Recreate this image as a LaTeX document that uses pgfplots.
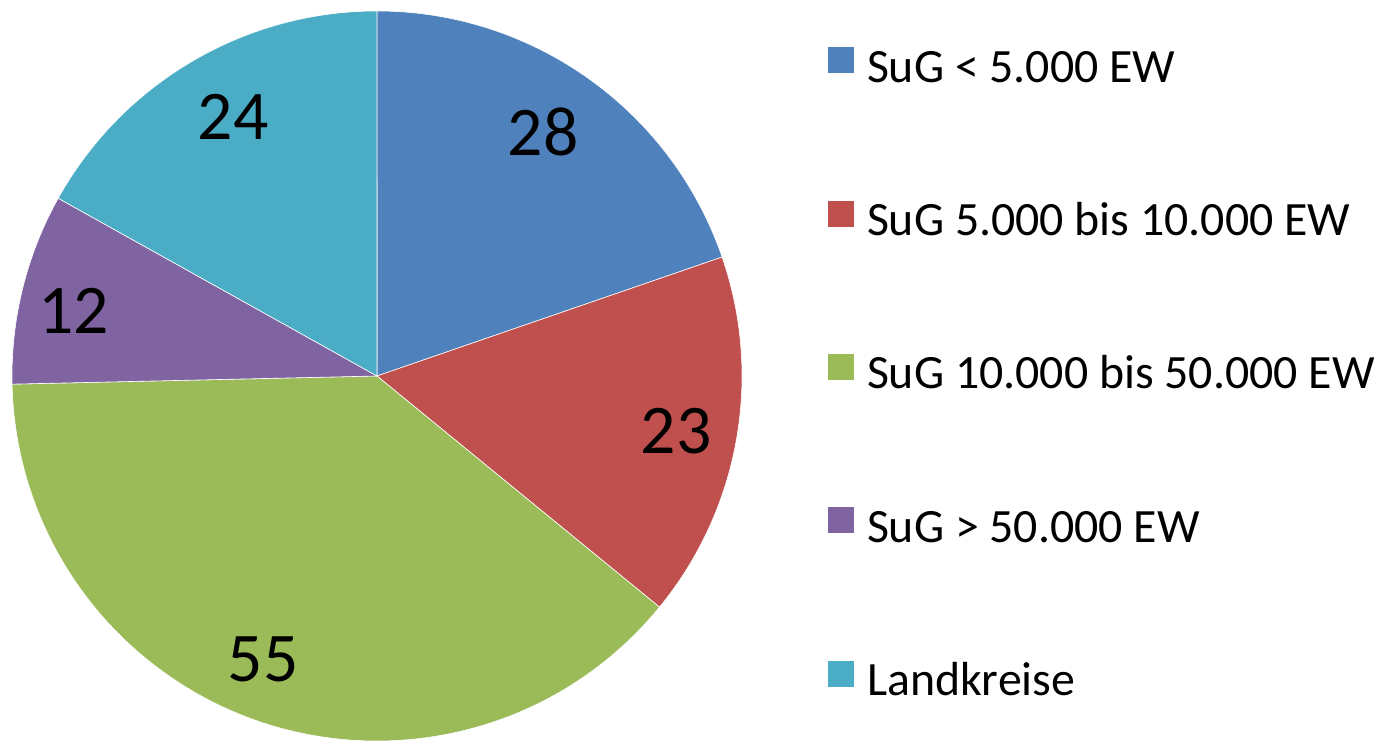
\documentclass[border=0pt]{standalone}
\usepackage{pgfplots}
\pgfplotsset{compat=1.18}
\usepackage{pgfplotstable}
\usepackage{fontspec}
\setmainfont{Carlito}
\definecolor{c1}{HTML}{4F81BD}
\definecolor{c2}{HTML}{C0504D}
\definecolor{c3}{HTML}{9BBB59}
\definecolor{c4}{HTML}{8064A2}
\definecolor{c5}{HTML}{4BACC6}
\pgfplotstableread{
value
28
23
55
12
24
}\piedata
\newcommand\slice[5]{%
  \fill[#1, draw=white, line width=0.3bp] (axis cs:377,365) -- ++(#2:182.5bp) arc[start angle=#2, end angle=#3, radius=182.5bp] -- cycle;
  \path (axis cs:377,365) ++({(#2+#3)/2}:150bp) node[font=\fontsize{35}{40}\selectfont, inner sep=0pt, #5] {#4};
}
\begin{document}
\begin{tikzpicture}
\pgfplotstablegetelem{0}{value}\of\piedata\edef\vA{\pgfplotsretval}
\pgfplotstablegetelem{1}{value}\of\piedata\edef\vB{\pgfplotsretval}
\pgfplotstablegetelem{2}{value}\of\piedata\edef\vC{\pgfplotsretval}
\pgfplotstablegetelem{3}{value}\of\piedata\edef\vD{\pgfplotsretval}
\pgfplotstablegetelem{4}{value}\of\piedata\edef\vE{\pgfplotsretval}
\pgfmathsetmacro\tot{\vA+\vB+\vC+\vD+\vE}
\pgfmathsetmacro\aA{90}
\pgfmathsetmacro\aB{\aA-360*(\vA/\tot)}
\pgfmathsetmacro\aC{\aB-360*(\vB/\tot)}
\pgfmathsetmacro\aD{\aC-360*(\vC/\tot)}
\pgfmathsetmacro\aE{\aD-360*(\vD/\tot)}
\pgfmathsetmacro\aF{\aE-360*(\vE/\tot)}
\begin{axis}[
  hide axis, scale only axis,
  x=0.5bp, y=0.5bp,
  xmin=0, xmax=1387, ymin=0, ymax=741,
  enlargelimits=false, clip=false,
  legend image code/.code={\fill[#1, draw=none] (0bp,0bp) rectangle (13bp,13bp);},
  legend cell align=left,
  legend style={draw=none, fill=none, inner sep=0pt, outer sep=0pt,
    at={(axis cs:828,365.5)}, anchor=west,
    font=\fontsize{24}{28}\selectfont,
    row sep=55.2bp,
    nodes={inner sep=0pt, text height=13bp, text depth=4bp},
    /tikz/every odd column/.append style={column sep=6.5bp}},
]
\slice{c1}{\aA}{\aB}{\vA}{xshift=-4bp}
\slice{c2}{\aB}{\aC}{\vB}{xshift=2bp, yshift=-1bp}
\slice{c3}{\aC}{\aD}{\vC}{xshift=-8bp}
\slice{c4}{\aD}{\aE}{\vD}{xshift=-6bp, yshift=-3.5bp}
\slice{c5}{\aE}{\aF}{\vE}{xshift=4bp}
\addlegendimage{fill=c1}\addlegendentry{SuG < 5.000 EW}
\addlegendimage{fill=c2}\addlegendentry{SuG 5.000 bis 10.000 EW}
\addlegendimage{fill=c3}\addlegendentry{SuG 10.000 bis 50.000 EW}
\addlegendimage{fill=c4}\addlegendentry{SuG > 50.000 EW}
\addlegendimage{fill=c5}\addlegendentry{Landkreise}
\end{axis}
\pgfresetboundingbox
\path[use as bounding box] (current axis.south west) rectangle (current axis.north east);
\end{tikzpicture}
\end{document}
